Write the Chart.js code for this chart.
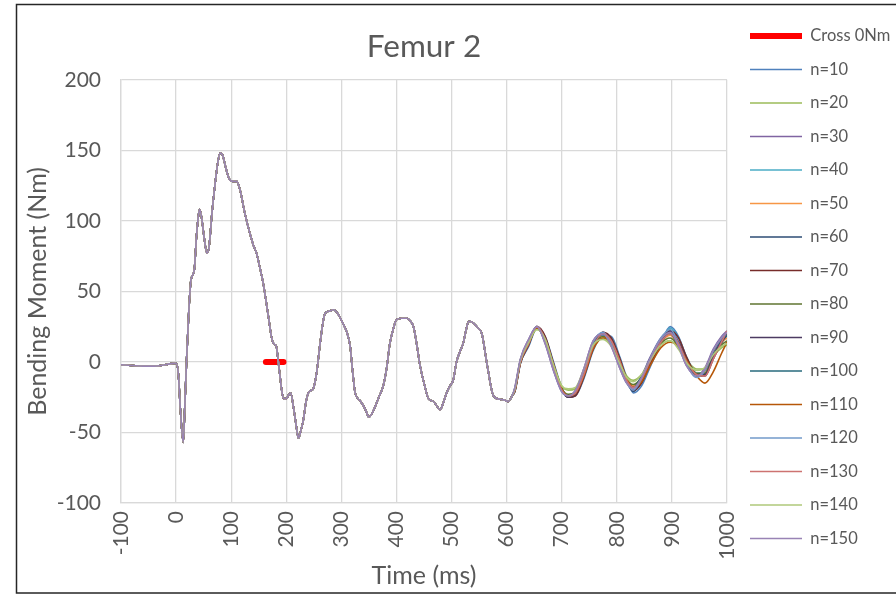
<!DOCTYPE html>
<html>
<head>
<meta charset="utf-8">
<style>
  html, body { margin: 0; padding: 0; background: #fff; }
  #wrap { width: 896px; height: 595px; }
</style>
<script src="https://cdn.jsdelivr.net/npm/chart.js@4.4.1/dist/chart.umd.min.js"></script>
</head>
<body>
<div id="wrap"><canvas id="femurChart" width="896" height="595"></canvas></div>
<script>
// Time (ms) and bending moment (Nm), shared part where all n curves overlap
const headTime = [-100, -80, -60, -40, -20, -5, 0, 4, 8, 13, 16, 19, 23, 27, 33, 37, 41, 43, 46, 51,
    56, 60, 65, 71, 76, 80, 84, 90, 96, 104, 110, 116, 125, 134, 140, 146, 152, 158, 163, 168,
    173, 177, 182, 185, 188, 191, 195, 200, 205, 208, 213, 218, 222, 227, 231, 236, 240, 246, 249, 255,
    262, 270, 278, 286, 294, 302, 310, 316, 320, 325, 330, 335, 340, 345, 350, 355, 361, 368, 376, 382,
    388, 394, 400, 410, 419, 425, 431, 437, 443, 450, 458, 467, 473, 479, 485, 491, 497, 503, 509, 516,
    521, 526, 531, 536, 540, 548, 555, 565, 576, 588, 596, 603, 610];
const headMoment = [-2, -2.5, -3, -3, -2, -1, -1, -8, -35, -57, -30, 1, 35, 58, 65, 89, 105, 108, 103, 88,
    77, 82, 105, 127, 142, 148, 147, 138, 130, 128, 128, 122, 105, 91, 83, 77, 67, 56, 44, 31,
    18, 13, 11, 2, -8, -18, -26, -26, -23, -22, -32, -45, -54, -48, -41, -28, -22, -20, -19, -8,
    15, 34, 36, 37, 34, 28, 21, 11, -5, -22, -26, -28, -31, -35, -39, -37, -32, -25, -17, -5,
    13, 23, 30, 31, 31, 29, 25, 12, -3, -15, -26, -28, -31, -34, -29, -22, -17, -13, 0, 8,
    13, 22, 28.6, 28.5, 27.4, 24, 20, -3, -24, -26.5, -27, -28, -24];

// Tail where the curves drift apart
const tailTime = [615, 625, 640, 655, 670, 685, 700, 712, 725, 740, 757, 775, 790, 805, 818, 830, 845, 860,
    880, 897, 912, 927, 945, 960, 975, 990, 1000];
const n10  = [-21, -1, 11, 24, 18, 0, -18, -25, -24, -12, 8, 19, 18, 4, -11, -22, -17, -4, 13, 25, 18, 3, -8, -8, 3, 13, 19];
const n20  = [-19, 1, 14, 23, 16, -2, -17, -20, -19, -7, 11, 17, 12, 0, -10, -13, -9, 1, 12, 15, 10, 1, -5, -5, 4, 10, 12];
const n30  = [-18, 2, 16, 25, 13, -6, -21, -24, -20, -5, 15, 20, 11, -4, -15, -18, -10, 3, 17, 21, 11, -3, -10, -4, 9, 18, 22];
const n40  = [-21, -1, 12, 25, 17, -2, -19, -24, -23, -11, 9, 20, 17, 3, -12, -20, -15, -2, 14, 24, 17, 3, -8, -7, 4, 15, 20];
const n50  = [-20, 0, 14, 25, 15, -4, -20, -24, -21, -8, 12, 18, 13, -1, -13, -17, -11, 1, 14, 19, 11, -1, -9, -7, 6, 14, 17];
const n60  = [-20, 0, 13, 25, 16, -3, -20, -25, -22, -9, 11, 21, 15, 0, -14, -21, -14, -1, 14, 22, 14, 0, -10, -9, 4, 14, 19];
const n70  = [-21, -1, 12, 25, 18, -1, -19, -25, -24, -11, 9, 21, 17, 3, -12, -20, -15, -2, 13, 22, 17, 3, -9, -10, 2, 14, 21];
const n80  = [-20, 1, 13, 24, 16, -3, -19, -23, -21, -8, 11, 18, 13, 0, -12, -16, -11, 0, 13, 17, 11, 0, -8, -8, 4, 12, 15];
const n90  = [-20, 0, 13, 25, 16, -3, -20, -25, -22, -9, 11, 20, 15, 0, -13, -20, -13, 0, 15, 22, 14, 1, -9, -9, 4, 15, 21];
const n100 = [-19, 1, 15, 25, 14, -5, -20, -24, -21, -7, 13, 20, 13, -2, -14, -18, -10, 2, 16, 20, 11, -2, -10, -6, 7, 16, 19];
const n110 = [-20, 0, 13, 24, 16, -2, -19, -24, -22, -10, 9, 17, 14, 1, -12, -18, -14, -3, 10, 14, 11, 1, -10, -15, -7, 6, 14];
const n120 = [-19, 1, 15, 25, 14, -5, -21, -24, -21, -6, 14, 21, 13, -3, -15, -20, -12, 2, 17, 23, 13, -2, -11, -6, 8, 17, 21];
const n130 = [-20, 0, 13, 25, 16, -3, -20, -24, -22, -9, 11, 20, 15, 1, -13, -18, -12, 0, 14, 20, 13, 0, -9, -10, 2, 14, 22];
const n140 = [-19, 1, 14, 23, 16, -2, -17, -19, -18, -5, 12, 16, 11, -1, -11, -14, -9, 1, 12, 15, 9, -1, -6, -4, 5, 11, 13];
const n150 = [-18, 2, 16, 25, 13, -6, -21, -24, -20, -5, 15, 20, 11, -4, -15, -19, -11, 2, 16, 21, 11, -3, -10, -5, 8, 17, 21];

const seriesNames = ["n=10", "n=20", "n=30", "n=40", "n=50", "n=60", "n=70", "n=80",
    "n=90", "n=100", "n=110", "n=120", "n=130", "n=140", "n=150"];
const seriesTails = [n10, n20, n30, n40, n50, n60, n70, n80, n90, n100, n110, n120, n130, n140, n150];
const seriesColors = ["#4F81BD", "#9BBB59", "#8064A2", "#4BACC6", "#F79646", "#2C4D75", "#772C2A", "#5F7530",
    "#4D3B62", "#276A7C", "#B65708", "#729ACA", "#CD7371", "#AFC97A", "#9983B5"];

// Red marker where the moment crosses 0 Nm
const crossTime = [163, 195];
const crossMoment = [0, 0];

const xTicks = { min: -100, max: 1000, step: 100 };
const yTicks = { min: -100, max: 200, step: 50 };

const FONT = 'Lato, "Liberation Sans", sans-serif';
const TEXT = "#595959";

function toPoints(xs, ys) {
    return xs.map((x, i) => ({ x: x, y: ys[i] }));
}

const datasets = [{
    label: "Cross 0Nm",
    data: toPoints(crossTime, crossMoment),
    borderColor: "#FF0000",
    backgroundColor: "#FF0000",
    borderWidth: 6,
    borderCapStyle: "round",
    pointRadius: 0,
    order: 100
}];

seriesNames.forEach((name, i) => {
    datasets.push({
        label: name,
        data: toPoints(headTime, headMoment).concat(toPoints(tailTime, seriesTails[i])),
        borderColor: seriesColors[i],
        backgroundColor: seriesColors[i],
        borderWidth: 1.6,
        pointRadius: 0,
        cubicInterpolationMode: "monotone",
        order: 50 - i // later series on top, like the original
    });
});

// White background and the outer frame
const framePlugin = {
    id: "frame",
    beforeDraw(chart) {
        const ctx = chart.ctx;
        ctx.save();
        ctx.fillStyle = "#fff";
        ctx.fillRect(0, 0, chart.width, chart.height);
        ctx.strokeStyle = "#262626";
        ctx.lineWidth = 1.5;
        ctx.strokeRect(16.5, 4.5, 900, 588.5);
        ctx.restore();
    }
};

// a little more room between the plot and the legend
const legendGap = {
    id: "legendGap",
    afterLayout(chart) {
        chart.legend.left += 6;
        chart.legend.right += 6;
    }
};

new Chart(document.getElementById("femurChart"), {
    type: "line",
    data: { datasets: datasets },
    plugins: [framePlugin, legendGap],
    options: {
        responsive: false,
        animation: false,
        layout: { padding: { left: 16, right: 0, top: 0, bottom: 0 } },
        scales: {
            x: {
                type: "linear",
                min: xTicks.min,
                max: xTicks.max,
                afterFit: s => { s.height = 92; s.paddingRight = 169; },
                ticks: {
                    stepSize: xTicks.step,
                    minRotation: 90,
                    maxRotation: 90,
                    padding: 8,
                    color: TEXT,
                    font: { family: FONT, size: 21 },
                    callback: v => String(v)
                },
                grid: { color: "#D9D9D9", lineWidth: 1.3, drawTicks: false },
                border: { color: "#D9D9D9", width: 1.3 },
                title: {
                    display: true,
                    text: "Time (ms)",
                    color: TEXT,
                    font: { family: FONT, size: 25 },
                    padding: { top: 0, bottom: 4 }
                }
            },
            y: {
                min: yTicks.min,
                max: yTicks.max,
                afterFit: s => { s.width = 105; },
                ticks: {
                    stepSize: yTicks.step,
                    padding: 20,
                    color: TEXT,
                    font: { family: FONT, size: 21 }
                },
                grid: { color: "#D9D9D9", lineWidth: 1.3, drawTicks: false },
                border: { color: "#D9D9D9", width: 1.3 },
                title: {
                    display: true,
                    text: "Bending Moment (Nm)",
                    color: TEXT,
                    font: { family: FONT, size: 25 },
                    padding: { top: 7, bottom: 0 }
                }
            }
        },
        plugins: {
            title: {
                display: true,
                text: "Femur 2",
                fullSize: false,
                color: TEXT,
                font: { family: FONT, size: 31.5, weight: "normal" },
                padding: { top: 28, bottom: 14 }
            },
            legend: {
                position: "right",
                align: "start",
                title: { display: true, text: " ", font: { size: 1 }, padding: { top: 9.5, bottom: 0 } },
                labels: {
                    usePointStyle: true,
                    pointStyle: "line",
                    pointStyleWidth: 52,
                    padding: 17,
                    color: TEXT,
                    font: { family: FONT, size: 16.5 },
                    sort: (a, b) => a.datasetIndex - b.datasetIndex
                }
            },
            tooltip: { enabled: false }
        }
    }
});
</script>
</body>
</html>
